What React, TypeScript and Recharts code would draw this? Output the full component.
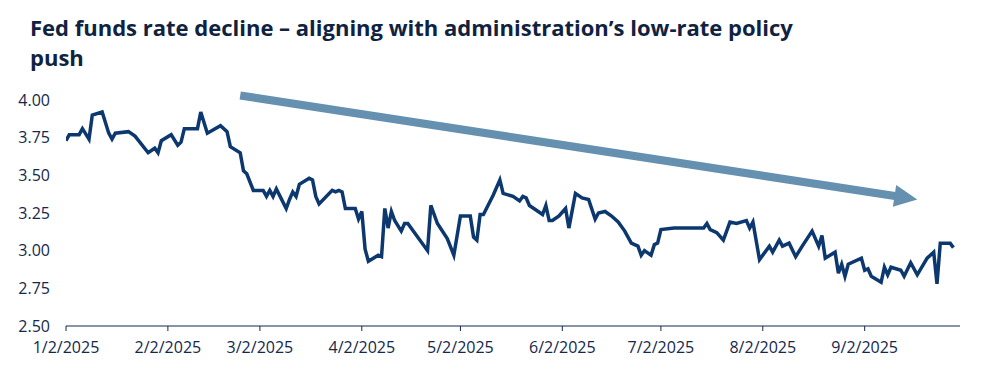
import { LineChart, Line, XAxis, YAxis, ReferenceLine } from "recharts";

const YEAR = 2025;

// daily readings, M/D of 2025
const dates = [
  "1/2", "1/3", "1/6", "1/7", "1/9", "1/10", "1/13", "1/15", "1/16", "1/17", "1/21", "1/23", "1/27", "1/29", "1/30", "1/31",
  "2/3", "2/5", "2/6", "2/7", "2/10", "2/11", "2/12", "2/14", "2/18", "2/20", "2/21", "2/24", "2/25", "2/26", "2/28",
  "3/3", "3/4", "3/5", "3/6", "3/7", "3/10", "3/11", "3/12", "3/13", "3/14", "3/17", "3/18", "3/19", "3/20", "3/24", "3/25", "3/26", "3/27", "3/28", "3/31",
  "4/1", "4/2", "4/3", "4/4", "4/7", "4/8", "4/9", "4/10", "4/11", "4/12", "4/14", "4/15", "4/16", "4/22", "4/23", "4/25", "4/28", "4/30",
  "5/2", "5/5", "5/6", "5/7", "5/8", "5/9", "5/12", "5/14", "5/15", "5/18", "5/20", "5/21", "5/22", "5/23", "5/27", "5/28", "5/29", "5/30",
  "6/1", "6/3", "6/4", "6/6", "6/8", "6/10", "6/12", "6/13", "6/15", "6/17", "6/19", "6/21", "6/23", "6/25", "6/26", "6/27", "6/29", "6/30",
  "7/1", "7/2", "7/6", "7/15", "7/16", "7/17", "7/19", "7/21", "7/23", "7/25", "7/28", "7/29", "7/30",
  "8/1", "8/4", "8/5", "8/7", "8/8", "8/10", "8/12", "8/14", "8/17", "8/19", "8/20", "8/21", "8/24", "8/25", "8/26", "8/27", "8/28",
  "9/1", "9/2", "9/3", "9/4", "9/7", "9/8", "9/9", "9/10", "9/13", "9/14", "9/16", "9/18", "9/21", "9/23", "9/24", "9/25", "9/28", "9/29",
];

const rates = [
  3.73, 3.77, 3.77, 3.81, 3.74, 3.9, 3.92, 3.78, 3.74, 3.78, 3.79, 3.76, 3.65, 3.68, 3.65, 3.73,
  3.77, 3.7, 3.72, 3.81, 3.81, 3.81, 3.92, 3.78, 3.83, 3.79, 3.69, 3.65, 3.53, 3.51, 3.4,
  3.4, 3.36, 3.4, 3.36, 3.41, 3.28, 3.34, 3.39, 3.36, 3.44, 3.48, 3.47, 3.36, 3.31, 3.4, 3.39, 3.4, 3.39, 3.28, 3.28,
  3.21, 3.26, 3.01, 2.93, 2.97, 2.96, 3.28, 3.15, 3.26, 3.2, 3.13, 3.18, 3.18, 3.0, 3.3, 3.18, 3.08, 2.97,
  3.23, 3.23, 3.09, 3.07, 3.24, 3.24, 3.37, 3.47, 3.38, 3.36, 3.33, 3.36, 3.35, 3.3, 3.24, 3.3, 3.2, 3.2,
  3.23, 3.28, 3.15, 3.38, 3.35, 3.34, 3.21, 3.25, 3.26, 3.23, 3.19, 3.13, 3.05, 3.03, 2.97, 3.0, 2.97, 3.04,
  3.05, 3.14, 3.15, 3.15, 3.18, 3.14, 3.12, 3.07, 3.19, 3.18, 3.2, 3.15, 3.19,
  2.94, 3.03, 2.99, 3.07, 3.03, 3.05, 2.96, 3.03, 3.13, 3.03, 3.1, 2.95, 2.99, 2.85, 2.91, 2.83, 2.91,
  2.95, 2.87, 2.88, 2.83, 2.79, 2.89, 2.84, 2.89, 2.87, 2.83, 2.92, 2.84, 2.95, 2.99, 2.78, 3.05, 3.05, 3.02,
];

const xTickDates = ["1/2", "2/2", "3/2", "4/2", "5/2", "6/2", "7/2", "8/2", "9/2"];
const yTicks = [2.5, 2.75, 3.0, 3.25, 3.5, 3.75, 4.0];

// trend arrow ends (date, rate)
const arrowFrom = { date: "2/24", rate: 4.03 };
const arrowTo = { date: "9/18", rate: 3.34 };

const toTime = (md: string) => {
  const [m, d] = md.split("/").map(Number);
  return Date.UTC(YEAR, m - 1, d);
};

const fmtDate = (t: number) => {
  const d = new Date(t);
  return `${d.getUTCMonth() + 1}/${d.getUTCDate()}/${d.getUTCFullYear()}`;
};

const data = dates.map((d, i) => ({ t: toTime(d), rate: rates[i] }));

const NAVY = "#13284b";
const LINE = "#0c386f";
const ARROW = "#6590b0";

function TrendArrow(props: any) {
  const { x1, y1, x2, y2 } = props;
  const dx = x2 - x1;
  const dy = y2 - y1;
  const len = Math.sqrt(dx * dx + dy * dy);
  const ux = dx / len;
  const uy = dy / len;
  const headLen = 23;
  const headHalf = 11;
  const bx = x2 - ux * headLen;
  const by = y2 - uy * headLen;
  const pts = [
    [x2, y2],
    [bx - uy * headHalf, by + ux * headHalf],
    [bx + uy * headHalf, by - ux * headHalf],
  ]
    .map((p) => p.join(","))
    .join(" ");
  return (
    <g>
      <line x1={x1} y1={y1} x2={bx + ux * 2} y2={by + uy * 2} stroke={ARROW} strokeWidth={8} />
      <polygon points={pts} fill={ARROW} />
    </g>
  );
}

export default function App() {
  const tickStyle = { fill: NAVY, fontSize: 16, fontFamily: "'Open Sans', sans-serif" };
  return (
    <div style={{ position: "absolute", left: 0, top: 0, width: 985, height: 375, background: "#fff" }}>
      <div
        style={{
          position: "absolute",
          left: 30,
          top: 12,
          fontFamily: "'Open Sans', sans-serif",
          fontWeight: 700,
          fontSize: 22,
          lineHeight: "30px",
          color: "#0f2341",
          whiteSpace: "nowrap",
        }}
      >
        Fed funds rate decline – aligning with administration’s low-rate policy
        <br />
        push
      </div>
      <LineChart width={985} height={375} data={data} margin={{ top: 100, right: 25, bottom: 19, left: 0 }}>
        <XAxis
          dataKey="t"
          type="number"
          height={30}
          domain={[toTime("1/2"), toTime("10/1")]}
          ticks={xTickDates.map(toTime)}
          tickFormatter={fmtDate}
          stroke={NAVY}
          tick={tickStyle}
          tickSize={5}
          tickMargin={11}
          allowDataOverflow
        />
        <YAxis
          width={66}
          domain={[2.5, 4]}
          ticks={yTicks}
          tickFormatter={(v: number) => v.toFixed(2)}
          axisLine={false}
          tickLine={false}
          tick={tickStyle}
          tickSize={6}
          tickMargin={10}
        />
        <Line
          type="linear"
          dataKey="rate"
          stroke={LINE}
          strokeWidth={3.5}
          dot={false}
          isAnimationActive={false}
        />
        <ReferenceLine
          segment={[
            { x: toTime(arrowFrom.date), y: arrowFrom.rate },
            { x: toTime(arrowTo.date), y: arrowTo.rate },
          ]}
          ifOverflow="visible"
          shape={TrendArrow}
        />
      </LineChart>
    </div>
  );
}
